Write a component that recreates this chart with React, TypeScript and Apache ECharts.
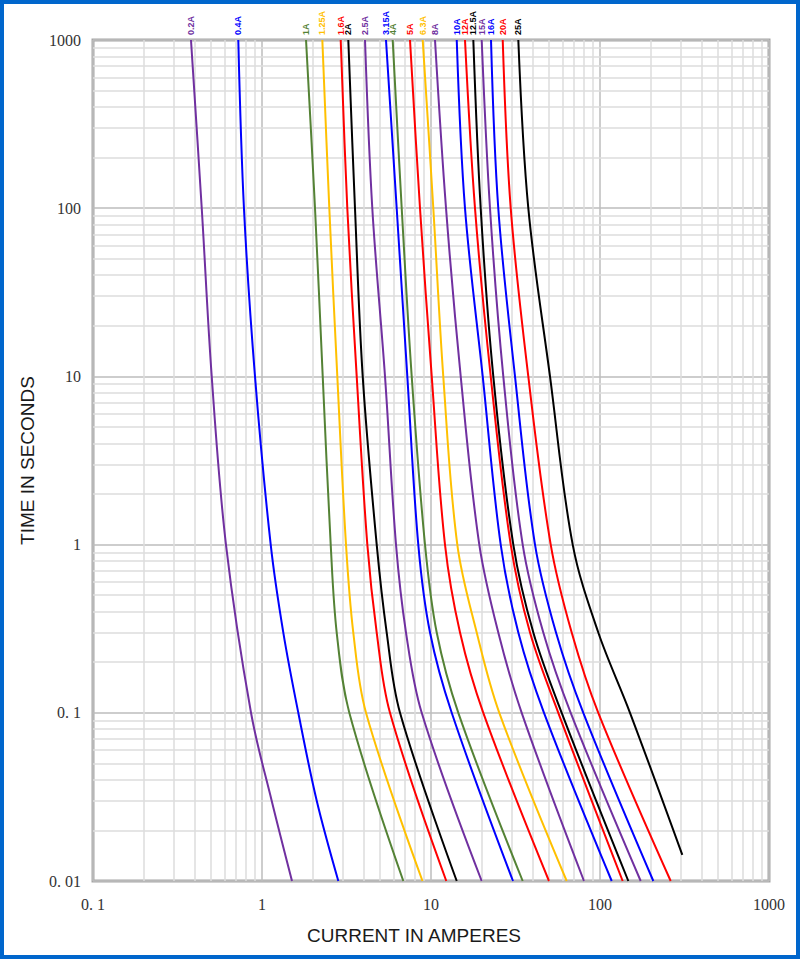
import React, { useEffect, useRef } from 'react';
import * as echarts from 'echarts';

// Time values (seconds) at which currents were read
const TIMES_0_2A = [1000, 100, 10, 1, 0.1, 0.03, 0.01];
const TIMES_0_4A = [1000, 100, 10, 1, 0.3, 0.1, 0.03, 0.01];
const TIMES_STD = [1000, 100, 10, 1, 0.3, 0.1, 0.01];
const TIMES_25A = [1000, 100, 10, 1, 0.3, 0.1, 0.0143];

// Currents (A) for each fuse rating
const I_0_2A = [0.380, 0.440, 0.504, 0.612, 0.861, 1.141, 1.505];
const I_0_4A = [0.724, 0.782, 0.909, 1.126, 1.337, 1.640, 2.108, 2.829];
const I_1A = [1.822, 2.059, 2.287, 2.550, 2.767, 3.286, 6.859];
const I_1_25A = [2.275, 2.502, 2.790, 3.141, 3.469, 4.125, 8.906];
const I_1_6A = [2.922, 3.197, 3.634, 4.200, 4.772, 5.719, 12.32];
const I_2A = [3.241, 3.550, 3.944, 4.772, 5.468, 6.556, 14.20];
const I_2_5A = [4.069, 4.494, 5.344, 6.208, 7.114, 8.810, 19.95];
const I_3_15A = [5.416, 6.266, 7.242, 8.410, 9.865, 13.26, 30.56];
const I_4A = [5.934, 6.710, 7.689, 9.216, 10.81, 14.51, 34.88];
const I_5A = [7.512, 8.608, 10.10, 12.10, 14.85, 20.39, 49.91];
const I_6_3A = [8.931, 10.32, 11.82, 14.31, 18.64, 25.36, 63.53];
const I_8A = [10.56, 12.27, 14.99, 19.31, 25.01, 34.41, 80.40];
const I_10A = [14.20, 15.89, 20.23, 25.85, 32.86, 46.63, 117.3];
const I_12A = [15.89, 18.21, 22.56, 29.63, 38.54, 56.66, 136.2];
const I_12_5A = [17.80, 19.68, 23.37, 30.69, 40.31, 59.34, 147.1];
const I_15A = [19.95, 22.34, 26.78, 34.88, 46.18, 67.09, 174.1];
const I_16A = [22.65, 25.01, 31.41, 41.25, 54.91, 79.65, 206.8];
const I_20A = [26.57, 29.63, 37.65, 51.09, 68.00, 97.70, 262.0];
const I_25A = [32.86, 37.65, 50.60, 68.94, 97.7, 150.5, 306.9];

const RATINGS = ['0.2A', '0.4A', '1A', '1.25A', '1.6A', '2A', '2.5A', '3.15A', '4A', '5A', '6.3A', '8A', '10A', '12A', '12.5A', '15A', '16A', '20A', '25A'];
const CURRENTS = [I_0_2A, I_0_4A, I_1A, I_1_25A, I_1_6A, I_2A, I_2_5A, I_3_15A, I_4A, I_5A, I_6_3A, I_8A, I_10A, I_12A, I_12_5A, I_15A, I_16A, I_20A, I_25A];
const TIMES = [TIMES_0_2A, TIMES_0_4A, TIMES_STD, TIMES_STD, TIMES_STD, TIMES_STD, TIMES_STD, TIMES_STD, TIMES_STD, TIMES_STD, TIMES_STD, TIMES_STD, TIMES_STD, TIMES_STD, TIMES_STD, TIMES_STD, TIMES_STD, TIMES_STD, TIMES_25A];

const PURPLE = '#7030a0';
const BLUE = '#0000ff';
const GREEN = '#548235';
const YELLOW = '#ffc000';
const RED = '#ff0000';
const BLACK = '#000000';
const COLORS = [PURPLE, BLUE, GREEN, YELLOW, RED, BLACK, PURPLE, BLUE, GREEN, RED, YELLOW, PURPLE, BLUE, RED, BLACK, PURPLE, BLUE, RED, BLACK];

const X_TICK_LABELS: Record<string, string> = { '-1': '0. 1', '0': '1', '1': '10', '2': '100', '3': '1000' };
const Y_TICK_LABELS: Record<string, string> = { '-2': '0. 01', '-1': '0. 1', '0': '1', '1': '10', '2': '100', '3': '1000' };
const X_DECADES = [0.1, 1, 10, 100];
const Y_DECADES = [0.01, 0.1, 1, 10, 100];
const MULTIPLIERS = [2, 3, 4, 5, 6, 7, 8, 9];

export default function App() {
  const ref = useRef<HTMLDivElement>(null);
  useEffect(() => {
    document.body.style.margin = '0';
    const chart = echarts.init(ref.current!, null, { renderer: 'svg' });

    const minorX: any[] = [];
    X_DECADES.forEach((d) => MULTIPLIERS.forEach((m) => minorX.push({ xAxis: +(d * m).toPrecision(3) })));
    const minorY: any[] = [];
    Y_DECADES.forEach((d) => MULTIPLIERS.forEach((m) => minorY.push({ yAxis: +(d * m).toPrecision(3) })));

    const curveSeries = RATINGS.map((name, i) => ({
      name,
      type: 'line',
      data: CURRENTS[i].map((c, j) => [c, TIMES[i][j]]),
      showSymbol: false,
      symbol: 'none',
      smooth: 0.35,
      silent: true,
      z: 5,
      lineStyle: { color: COLORS[i], width: 2 },
      itemStyle: { color: COLORS[i] },
    }));

    chart.setOption({
      animation: false,
      backgroundColor: '#ffffff',
      grid: {
        left: 93,
        right: 31,
        top: 40,
        bottom: 78,
        show: true,
        borderColor: '#a6a6a6',
        borderWidth: 3,
        backgroundColor: 'transparent',
      },
      xAxis: {
        type: 'log',
        logBase: 10,
        min: 0.1,
        max: 1000,
        name: 'CURRENT IN AMPERES',
        nameLocation: 'middle',
        nameGap: 45,
        nameTextStyle: { fontFamily: 'Liberation Sans', fontSize: 19, color: '#1a1a1a', padding: [0, 34, 0, 0] },
        axisLine: { show: false },
        axisTick: { show: false },
        axisLabel: {
          margin: 15,
          fontFamily: 'Liberation Serif',
          fontSize: 16,
          color: '#333',
          formatter: (v: number) => X_TICK_LABELS[String(Math.round(Math.log10(v)))] ?? '',
        },
        splitLine: { show: true, lineStyle: { color: '#bdbdbd', width: 1.5 } },
      },
      yAxis: {
        type: 'log',
        logBase: 10,
        min: 0.01,
        max: 1000,
        name: 'TIME IN SECONDS',
        nameLocation: 'middle',
        nameGap: 56,
        nameTextStyle: { fontFamily: 'Liberation Sans', fontSize: 19, color: '#1a1a1a' },
        axisLine: { show: false },
        axisTick: { show: false },
        axisLabel: {
          margin: 12,
          fontFamily: 'Liberation Serif',
          fontSize: 16,
          color: '#333',
          formatter: (v: number) => Y_TICK_LABELS[String(Math.round(Math.log10(v)))] ?? '',
        },
        splitLine: { show: true, lineStyle: { color: '#bdbdbd', width: 1.5 } },
      },
      series: [
        {
          type: 'line',
          data: [],
          silent: true,
          z: 1,
          markLine: {
            silent: true,
            symbol: ['none', 'none'],
            label: { show: false },
            lineStyle: { color: '#dcdcdc', width: 1.5, type: 'solid' },
            data: [...minorX, ...minorY],
          },
        },
        ...curveSeries,
      ],
    });

    const labels = RATINGS.map((name, i) => {
      const p = chart.convertToPixel({ gridIndex: 0 }, [CURRENTS[i][0], TIMES[i][0]]) as number[];
      return {
        type: 'text',
        x: p[0],
        y: p[1] - 5,
        rotation: Math.PI / 2,
        silent: true,
        style: {
          text: name,
          fill: COLORS[i],
          fontFamily: 'Liberation Sans',
          fontSize: 9,
          fontWeight: 'bold',
          align: 'left',
          verticalAlign: 'middle',
        },
      };
    });
    chart.setOption({ graphic: labels });

    return () => chart.dispose();
  }, []);

  return (
    <div style={{ position: 'relative', width: 800, height: 959 }}>
      <div ref={ref} style={{ position: 'absolute', left: 0, top: 0, width: 800, height: 959 }} />
      <div
        style={{
          position: 'absolute',
          left: 0,
          top: 0,
          width: 800,
          height: 959,
          boxSizing: 'border-box',
          border: '4px solid #0066cc',
          pointerEvents: 'none',
        }}
      />
    </div>
  );
}
